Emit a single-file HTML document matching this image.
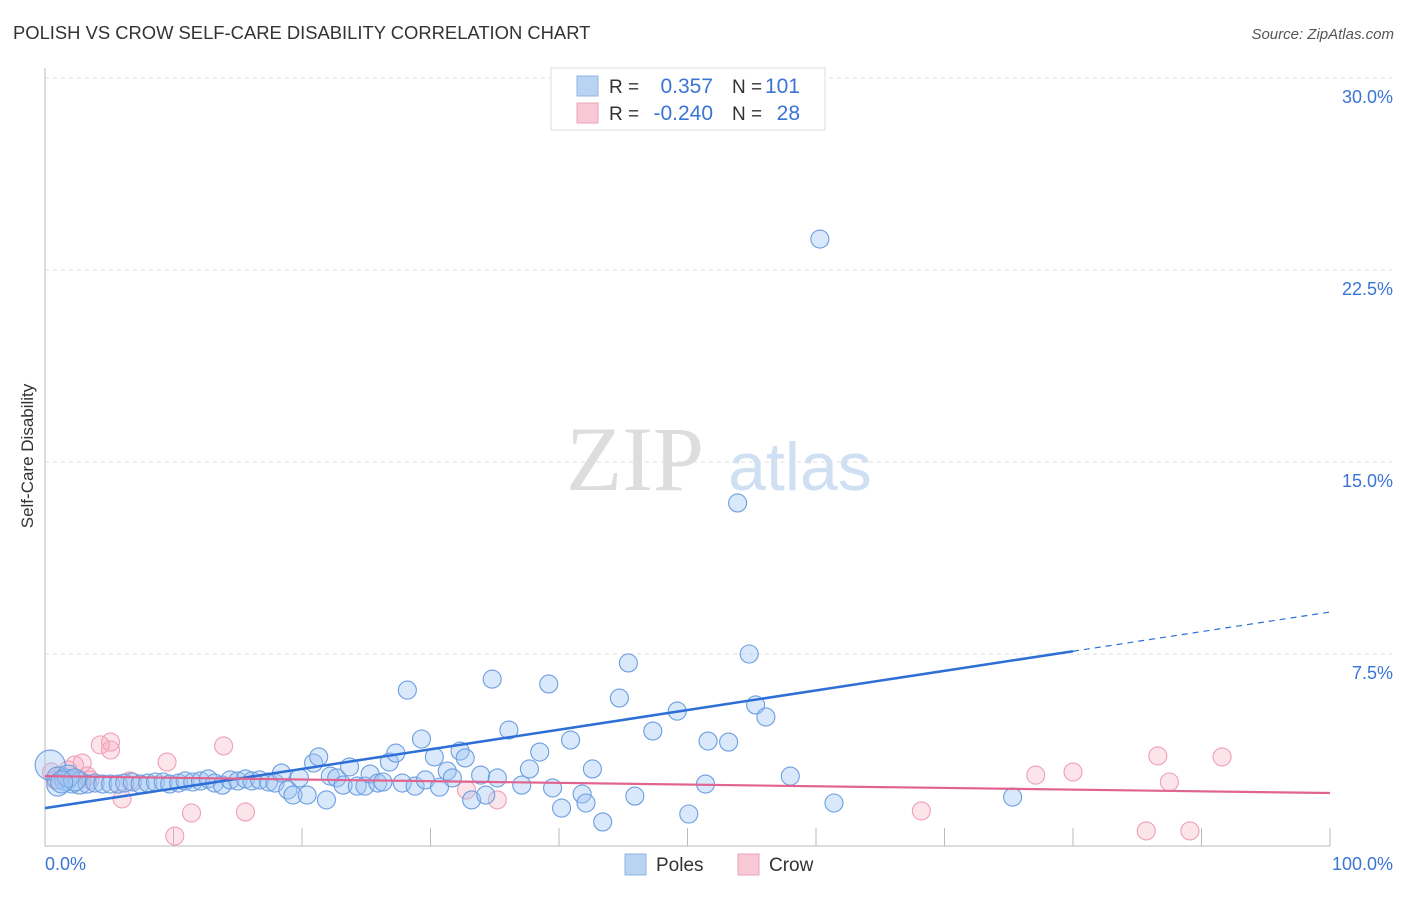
<!DOCTYPE html>
<html><head><meta charset="utf-8"><style>
body{margin:0;background:#fff;font-family:"Liberation Sans",sans-serif}
</style></head><body>
<svg id="chart" width="1406" height="892" viewBox="0 0 1406 892" xmlns="http://www.w3.org/2000/svg">
<text x="13" y="39" font-size="18.4" fill="#333">POLISH VS CROW SELF-CARE DISABILITY CORRELATION CHART</text>
<text x="1394" y="39" font-size="15" font-style="italic" fill="#555" text-anchor="end">Source: ZipAtlas.com</text>
<text x="33" y="456" font-size="17" fill="#333" text-anchor="middle" transform="rotate(-90 33 456)">Self-Care Disability</text>
<g><text x="635" y="490" font-size="92" font-family="Liberation Serif,serif" fill="#ddd" text-anchor="middle">ZIP</text><text x="800" y="490" font-size="68" fill="#cfe0f3" text-anchor="middle">atlas</text></g>
<g id="grid"></g><g id="axes"></g><g id="pts"></g><g id="lines"></g>
<g>
<rect x="551" y="68" width="274" height="62" fill="#fff" stroke="#ddd"/>
<rect x="577" y="76" width="21" height="20" fill="#b9d3f2" stroke="#8fb4e3"/>
<rect x="577" y="103" width="21" height="20" fill="#f8c8d6" stroke="#eaa4ba"/>
<text x="609" y="93" font-size="19" fill="#333">R =</text><text x="713" y="93" font-size="21" fill="#3a74d6" text-anchor="end">0.357</text>
<text x="732" y="93" font-size="19" fill="#333">N =</text><text x="800" y="93" font-size="21" fill="#3a74d6" text-anchor="end">101</text>
<text x="609" y="120" font-size="19" fill="#333">R =</text><text x="713" y="120" font-size="21" fill="#3a74d6" text-anchor="end">-0.240</text>
<text x="732" y="120" font-size="19" fill="#333">N =</text><text x="800" y="120" font-size="21" fill="#3a74d6" text-anchor="end">28</text>
</g>
<g>
<rect x="625" y="854" width="21" height="21" fill="#b9d3f2" stroke="#8fb4e3"/><text x="656" y="871" font-size="19" fill="#333">Poles</text>
<rect x="738" y="854" width="21" height="21" fill="#f8c8d6" stroke="#eaa4ba"/><text x="769" y="871" font-size="19" fill="#333">Crow</text>
</g>
</svg>
<script>
const yTicks=[7.5,15,22.5,30];
const yTickLabels=["7.5%","15.0%","22.5%","30.0%"];
const xTickLabels=["0.0%","100.0%"];
const polesX=[0.4,1.0,1.6,2.1,2.7,3.3,3.9,4.5,5.1,5.7,6.2,6.8,7.4,8.0,8.6,9.2,9.7,10.4,10.9,11.5,12.1,12.7,13.2,13.8,14.4,15.0,15.6,16.1,16.7,17.4,17.9,18.4,18.9,19.3,19.8,20.4,20.9,21.3,21.9,22.2,22.7,23.2,23.7,24.3,24.9,25.3,25.9,26.3,26.8,27.3,27.8,28.2,28.8,29.3,29.6,30.3,30.7,31.3,31.7,32.3,32.7,33.2,33.9,34.3,34.8,35.2,36.1,37.1,37.7,38.5,39.2,39.5,40.2,40.9,41.8,42.1,42.6,43.4,44.7,45.4,45.9,47.3,49.2,50.1,51.4,51.6,53.2,53.9,54.8,55.3,56.1,58.0,60.3,61.4,75.3,1.0,1.8,2.3,1.3];
const polesY=[3.16,2.66,2.58,2.50,2.46,2.42,2.46,2.42,2.42,2.42,2.46,2.50,2.42,2.46,2.50,2.50,2.42,2.46,2.54,2.50,2.54,2.62,2.46,2.38,2.58,2.54,2.62,2.54,2.58,2.50,2.46,2.85,2.19,1.99,2.66,1.99,3.24,3.48,1.80,2.73,2.66,2.38,3.09,2.34,2.34,2.81,2.46,2.50,3.28,3.63,2.46,6.09,2.34,4.18,2.58,3.48,2.30,2.93,2.66,3.71,3.44,1.80,2.77,1.99,6.52,2.66,4.53,2.38,3.01,3.67,6.33,2.27,1.48,4.14,2.03,1.68,3.01,0.94,5.78,7.15,1.95,4.49,5.27,1.25,2.42,4.10,4.06,13.40,7.50,5.51,5.04,2.73,23.71,1.68,1.91,2.38,2.73,2.58,2.50];
const crowX=[0.5,1.2,1.8,2.3,2.9,3.3,4.3,5.1,5.1,6.0,6.6,9.5,10.1,11.4,13.9,15.6,32.8,35.2,68.2,77.1,80.0,85.7,86.6,87.5,89.1,91.6,0.8,3.5];
const crowY=[2.89,2.73,2.97,3.16,3.24,2.73,3.95,4.06,3.75,1.84,2.54,3.28,0.39,1.29,3.91,1.33,2.19,1.80,1.37,2.77,2.89,0.59,3.52,2.50,0.59,3.48,2.58,2.58];
const polesTrend=[1.48,9.14];
const crowTrend=[2.73,2.07];
const X0=45,X1=1330,Y0=846,PPY=25.6;
const sx=v=>X0+(X1-X0)*v/100, sy=v=>Y0-v*PPY;
const NS="http://www.w3.org/2000/svg";
function mk(t,a,p){const e=document.createElementNS(NS,t);for(const k in a)e.setAttribute(k,a[k]);p.appendChild(e);return e;}
const grid=document.getElementById('grid'),axes=document.getElementById('axes'),pts=document.getElementById('pts'),lines=document.getElementById('lines');
yTicks.forEach((t,i)=>{
 const g=mk('line',{x1:X0,x2:1392,y1:sy(t),y2:sy(t),stroke:'#ddd','stroke-dasharray':'4 4'},grid);
 
 
 const l=mk('text',{x:1393,y:sy(t)+25,'font-size':18,fill:'#3a74d6','text-anchor':'end'},axes);l.textContent=yTickLabels[i];
 
 
});
mk('line',{x1:X0,x2:X0,y1:68,y2:Y0,stroke:'#bbb'},axes);
mk('line',{x1:X0,x2:X1,y1:Y0,y2:Y0,stroke:'#bbb'},axes);
for(let i=1;i<=10;i++){mk('line',{x1:X0+(X1-X0)*i/10,x2:X0+(X1-X0)*i/10,y1:Y0-18,y2:Y0,stroke:'#bbb'},axes);}
[[0,'start',45],[100,'end',1393]].forEach((d,i)=>{const t=mk('text',{x:d[2],y:870,'font-size':18,fill:'#3a74d6','text-anchor':d[1]},axes);t.textContent=xTickLabels[i];
 
 });
crowX.forEach((x,i)=>{const c=mk('circle',{cx:sx(x),cy:sy(crowY[i]),r:9,fill:'rgba(245,165,190,0.3)',stroke:'#ee9fb7','stroke-width':1.1},pts);
 
 });
polesX.forEach((x,i)=>{const r=i===0?15:(x<3?11:9);const c=mk('circle',{cx:sx(x),cy:sy(polesY[i]),r:r,fill:'rgba(160,198,242,0.4)',stroke:'#6a9ee0','stroke-width':1.1},pts);
 
 });
const pl=v=>polesTrend[0]+(polesTrend[1]-polesTrend[0])*v/100;
let a=mk('line',{x1:sx(0),y1:sy(pl(0)),x2:sx(80),y2:sy(pl(80)),stroke:'#2d6fd6','stroke-width':2.5},lines);


a=mk('line',{x1:sx(80),y1:sy(pl(80)),x2:sx(100),y2:sy(pl(100)),stroke:'#2d6fd6','stroke-width':1.2,'stroke-dasharray':'6 5'},lines);


a=mk('line',{x1:sx(0),y1:sy(crowTrend[0]),x2:sx(100),y2:sy(crowTrend[1]),stroke:'#e0648f','stroke-width':2.2},lines);


</script>
</body></html>
